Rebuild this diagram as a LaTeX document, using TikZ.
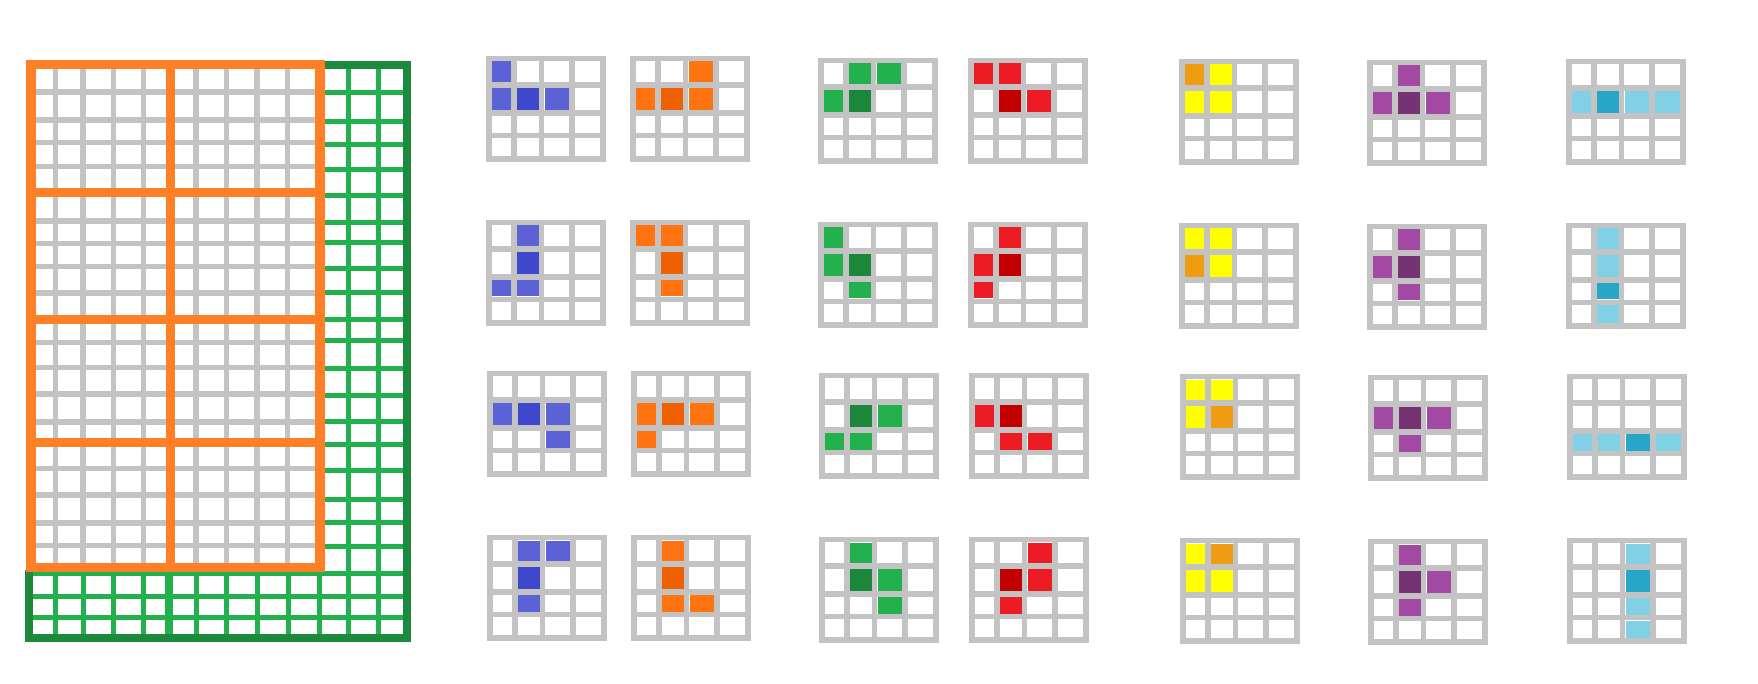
\documentclass[tikz,border=0pt]{standalone}
\definecolor{gridgray}{HTML}{C3C3C3}
\definecolor{bigorange}{HTML}{FF7F27}
\definecolor{biggreen}{HTML}{22B14C}
\definecolor{dkgreen}{HTML}{1B8A3C}
\definecolor{blueL}{HTML}{5A62D6}
\definecolor{blueD}{HTML}{3F48CC}
\definecolor{orL}{HTML}{FF7310}
\definecolor{orD}{HTML}{EE6000}
\definecolor{grL}{HTML}{22B14C}
\definecolor{grD}{HTML}{1A873A}
\definecolor{redL}{HTML}{ED1C24}
\definecolor{redD}{HTML}{C30000}
\definecolor{yelL}{HTML}{FFFF00}
\definecolor{yelD}{HTML}{F09C12}
\definecolor{purL}{HTML}{A349A4}
\definecolor{purD}{HTML}{753374}
\definecolor{cyL}{HTML}{80D0E6}
\definecolor{cyD}{HTML}{28A6C8}
\tikzset{
  smallgrid/.style={draw=gridgray, line width=5.5pt},
  biggray/.style={draw=gridgray, line width=5.5pt},
  greenline/.style={draw=biggreen, line width=5pt},
  orangeline/.style={draw=bigorange, line width=9.5pt},
  darkline/.style={draw=dkgreen, line width=8pt, line join=miter},
}
\newcommand\tetcell[3]{%
  \pgfmathtruncatemacro\tcn{#1+1}%
  \pgfmathtruncatemacro\trn{#2+1}%
  \pgfmathsetmacro\tcxa{{3,28,55.5,86,117}[#1]+3}%
  \pgfmathsetmacro\tcxb{{3,28,55.5,86,117}[\tcn]-3}%
  \pgfmathsetmacro\tcya{{3.5,30,58,80.5,104}[#2]+3}%
  \pgfmathsetmacro\tcyb{{3.5,30,58,80.5,104}[\trn]-3}%
  \fill[#3] (\tcxa,\tcya) rectangle (\tcxb,\tcyb);%
}
\newcommand\tetgrid[4]{% x, y, colour prefix, list of col/row/kind
  \begin{scope}[shift={(#1,#2)}]
    \foreach \cc/\rr/\kk in {#4} {\tetcell{\cc}{\rr}{#3\kk}}
    \foreach \gx in {3,28,55.5,86,117} \draw[smallgrid] (\gx,0.75) -- (\gx,106.75);
    \foreach \gy in {3.5,30,58,80.5,104} \draw[smallgrid] (0.25,\gy) -- (119.75,\gy);
  \end{scope}
}
\begin{document}
\begin{tikzpicture}[x=1pt,y=-1pt]
\useasboundingbox[fill=white] (0,0) rectangle (1758,684);
% ---- big board: gray cells
\foreach \gx in {55.5,83,113.5,143.5,196,226.5,257,287.5}
  \draw[biggray] (\gx,64.5) -- (\gx,567.5);
\foreach \gy in {92,120,142.5,166.5,221,243.5,266.5,293,342.5,367.5,394,422,468.5,495,523,545.5}
  \draw[biggray] (31,\gy) -- (320,\gy);
% ---- green right strip
\foreach \gx in {348.5,378.5}
  \draw[greenline] (\gx,65) -- (\gx,638);
\foreach \gy in {92.5,121.5,144.5,169.5,195.5,222.5,242.5,268.5,292.5,320,341,368.5,395.5,421.5,444.5,470.5,499.5,522.5,546.5}
  \draw[greenline] (320,\gy) -- (407,\gy);
% ---- green bottom strip
\foreach \gy in {573,596.5,617.5}
  \draw[greenline] (29,\gy) -- (409,\gy);
\foreach \gx in {55,83,113.5,143.5,168.5,196,226.5,257,288.5,319.5}
  \draw[greenline] (\gx,570) -- (\gx,638);
\draw[greenline, line width=8pt] (168.5,570) -- (168.5,638);
% ---- dark green outline
\draw[darkline] (320,65) -- (407,65) -- (407,638) -- (29,638) -- (29,570);
% ---- orange 5x5 blocks
\foreach \gx in {31,170.5,320}
  \draw[orangeline] (\gx,60) -- (\gx,572);
\foreach \gy in {64.5,192.5,319.5,442.5,567.5}
  \draw[orangeline] (26.25,\gy) -- (324.75,\gy);
% ---- J pieces (blue)
\tetgrid{486}{55}{blue}{0/0/L,0/1/L,1/1/D,2/1/L}
\tetgrid{486}{219}{blue}{1/0/L,1/1/D,0/2/L,1/2/L}
\tetgrid{487}{370}{blue}{0/1/L,1/1/D,2/1/L,2/2/L}
\tetgrid{487}{534}{blue}{1/0/L,2/0/L,1/1/D,1/2/L}
% ---- L pieces (orange)
\tetgrid{630}{55}{or}{2/0/L,0/1/L,1/1/D,2/1/L}
\tetgrid{630}{219}{or}{0/0/L,1/0/L,1/1/D,1/2/L}
\tetgrid{631}{370}{or}{0/1/L,1/1/D,2/1/L,0/2/L}
\tetgrid{631}{534}{or}{1/0/L,1/1/D,1/2/L,2/2/L}
% ---- S pieces (green)
\tetgrid{818}{57}{gr}{1/0/L,2/0/L,0/1/L,1/1/D}
\tetgrid{818}{221}{gr}{0/0/L,0/1/L,1/1/D,1/2/L}
\tetgrid{819}{372}{gr}{1/1/D,2/1/L,0/2/L,1/2/L}
\tetgrid{819}{536}{gr}{1/0/L,1/1/D,2/1/L,2/2/L}
% ---- Z pieces (red)
\tetgrid{968}{57}{red}{0/0/L,1/0/L,1/1/D,2/1/L}
\tetgrid{968}{221}{red}{1/0/L,0/1/L,1/1/D,0/2/L}
\tetgrid{969}{372}{red}{0/1/L,1/1/D,1/2/L,2/2/L}
\tetgrid{969}{536}{red}{2/0/L,1/1/D,2/1/L,1/2/L}
% ---- O pieces (yellow)
\tetgrid{1179}{58}{yel}{0/0/D,1/0/L,0/1/L,1/1/L}
\tetgrid{1179}{222}{yel}{0/0/L,1/0/L,0/1/D,1/1/L}
\tetgrid{1180}{373}{yel}{0/0/L,1/0/L,0/1/L,1/1/D}
\tetgrid{1180}{537}{yel}{0/0/L,1/0/D,0/1/L,1/1/L}
% ---- T pieces (purple)
\tetgrid{1367}{59}{pur}{1/0/L,0/1/L,1/1/D,2/1/L}
\tetgrid{1367}{223}{pur}{1/0/L,0/1/L,1/1/D,1/2/L}
\tetgrid{1368}{374}{pur}{0/1/L,1/1/D,2/1/L,1/2/L}
\tetgrid{1368}{538}{pur}{1/0/L,1/1/D,2/1/L,1/2/L}
% ---- I pieces (cyan)
\tetgrid{1566}{58}{cy}{0/1/L,1/1/D,2/1/L,3/1/L}
\tetgrid{1566}{222}{cy}{1/0/L,1/1/L,1/2/D,1/3/L}
\tetgrid{1567}{373}{cy}{0/2/L,1/2/L,2/2/D,3/2/L}
\tetgrid{1567}{537}{cy}{2/0/L,2/1/D,2/2/L,2/3/L}
\end{tikzpicture}
\end{document}
